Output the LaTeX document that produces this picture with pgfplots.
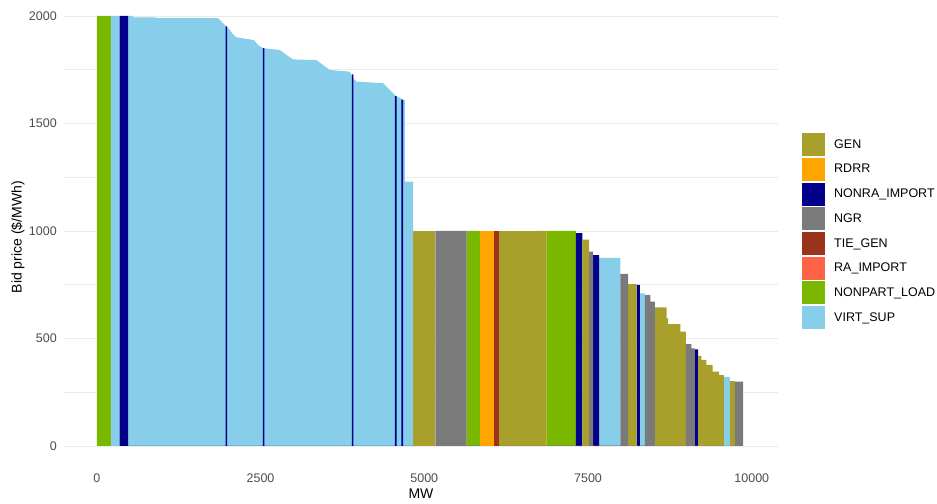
\documentclass[border=0pt]{standalone}
\usepackage{pgfplots}
\pgfplotsset{compat=1.18}
\usepackage{fontspec}
\setmainfont{Liberation Sans}
\definecolor{gen}{RGB}{168,160,42}
\definecolor{rdrr}{RGB}{255,165,0}
\definecolor{nonra}{RGB}{0,0,139}
\definecolor{ngr}{RGB}{122,122,122}
\definecolor{tiegen}{RGB}{153,51,26}
\definecolor{raimp}{RGB}{255,99,71}
\definecolor{npl}{RGB}{122,184,0}
\definecolor{virt}{RGB}{135,206,235}
\definecolor{gridc}{RGB}{235,235,235}
\definecolor{tickc}{RGB}{77,77,77}
\begin{document}
\begin{tikzpicture}
\path[use as bounding box] (0,0) rectangle (937bp,504bp);
\begin{axis}[
  at={(64bp,36.5bp)}, anchor=south west,
  scale only axis, width=714bp, height=473bp,
  xmin=-500, xmax=10400, ymin=-100, ymax=2100,
  axis line style={draw=none}, tick style={draw=none},
  xtick={0,2500,5000,7500,10000}, ytick={0,500,1000,1500,2000},
  minor ytick={250,750,1250,1750},
  ymajorgrids, yminorgrids,
  major grid style={color=gridc, line width=0.8bp},
  minor grid style={color=gridc, line width=0.5bp},
  tick label style={font=\fontsize{12.5bp}{14bp}\selectfont, text=tickc},
  xticklabel style={anchor=north, inner sep=0pt, yshift=-6bp},
  yticklabel style={anchor=east, inner sep=0pt, xshift=-7bp},
  scaled ticks=false,
  xlabel={MW}, ylabel={Bid price (\$/MWh)},
  xlabel style={at={(axis description cs:0.5,-0.056)}, anchor=center, font=\fontsize{14bp}{16bp}\selectfont},
  ylabel style={at={(axis description cs:-0.0644,0.487)}, anchor=center, font=\fontsize{14bp}{16bp}\selectfont},
  legend style={at={(axis description cs:1,1)}, anchor=north west, xshift=23.7bp, yshift=-137.65bp,
    draw=none, fill=none, inner sep=0pt, row sep=0pt, column sep=0pt,
    font=\fontsize{12.5bp}{14bp}\selectfont, cells={anchor=west}, nodes={inner sep=0pt, text=black}},
  legend image code/.code={\path[draw=none, fill=none] (0bp,-12.35bp) rectangle (32.3bp,12.35bp); \fill[#1, draw=none] (0bp,-11.4bp) rectangle (23.3bp,11.4bp);},
  /pgf/number format/.cd, 1000 sep={}, assume math mode=true
]
% NONPART_LOAD
\addplot[fill=npl, draw=none, mark=none, forget plot] coordinates {
(0,0) (0,2000) (214,2000) (214,0)
(5645,0) (5645,1000) (5850,1000) (5850,0)
(6865,0) (6865,1000) (7313,1000) (7313,0)};
% VIRT_SUP
\addplot[fill=virt, draw=none, mark=none, forget plot] coordinates {
(214,0) (214,2000) (351,2000) (351,0)
(478,0) (478,2000) (555,2000) (555,1994) (911,1994) (911,1990) (1852,1990) (1900,1975) (1930,1966) (1980,1950)
(2031,1935) (2080,1915) (2132,1901) (2400,1888) (2463,1865) (2540,1850) (2794,1842) (2896,1819) (2997,1798)
(3354,1795) (3455,1772) (3557,1749) (3863,1741) (3913,1710) (3964,1695) (4371,1687) (4473,1656) (4576,1625)
(4626,1620) (4677,1609) (4705,1609) (4705,1230) (4829,1230) (4829,0)
(7669,0) (7669,875) (7995,875) (7995,0)
(8290,0) (8290,710) (8366,710) (8366,0)
(9573,0) (9573,322) (9664,322) (9664,0)};
% NONRA_IMPORT
\addplot[fill=nonra, draw=none, mark=none, forget plot] coordinates {
(351,0) (351,2000) (478,2000) (478,0)
(1967,0) (1967,1952) (1991,1952) (1991,0)
(2535,0) (2535,1851) (2559,1851) (2559,0)
(3893,0) (3893,1728) (3917,1728) (3917,0)
(4553,0) (4553,1627) (4577,1627) (4577,0)
(4652,0) (4652,1611) (4676,1611) (4676,0)
(7313,0) (7313,990) (7415,990) (7415,0)
(7577,0) (7577,888) (7669,888) (7669,0)
(8240,0) (8240,749) (8290,749) (8290,0)
(9130,0) (9130,449) (9180,449) (9180,0)};
% GEN
\addplot[fill=gen, draw=none, mark=none, forget plot] coordinates {
(4829,0) (4829,1000) (4992,1000) (4992,0)};
\addplot[fill=gen, draw=none, mark=none, forget plot] coordinates {
(4992,0) (4992,1000) (5170,1000) (5170,0)};
\addplot[fill=gen, draw=none, mark=none, forget plot] coordinates {
(6140,0) (6140,1000) (6700,1000) (6700,0)};
\addplot[fill=gen, draw=none, mark=none, forget plot] coordinates {
(6700,0) (6700,1000) (6865,1000) (6865,0)
(7415,0) (7415,960) (7516,960) (7516,0)
(8111,0) (8111,753) (8240,753) (8240,0)
(8519,0) (8519,645) (8698,645) (8698,594) (8722,594) (8722,567) (8911,567) (8911,532) (8992,532) (8992,0)
(9180,0) (9180,419) (9232,419) (9232,400) (9308,400) (9308,377) (9400,377) (9400,346) (9501,346) (9501,330) (9573,330) (9573,0)
(9664,0) (9664,302) (9740,302) (9740,0)};
% NGR
\addplot[fill=ngr, draw=none, mark=none, forget plot] coordinates {
(5170,0) (5170,1000) (5645,1000) (5645,0)
(7516,0) (7516,904) (7577,904) (7577,0)
(7995,0) (7995,800) (8111,800) (8111,0)
(8366,0) (8366,702) (8453,702) (8453,671) (8519,671) (8519,0)
(8992,0) (8992,474) (9079,474) (9079,454) (9130,454) (9130,0)
(9740,0) (9740,299) (9868,299) (9868,0)};
% RDRR
\addplot[fill=rdrr, draw=none, mark=none, forget plot] coordinates {
(5850,0) (5850,1000) (6060,1000) (6060,0)};
% TIE_GEN
\addplot[fill=tiegen, draw=none, mark=none, forget plot] coordinates {
(6060,0) (6060,1000) (6140,1000) (6140,0)};
% legend
\addlegendimage{fill=gen}\addlegendentry{GEN}
\addlegendimage{fill=rdrr}\addlegendentry{RDRR}
\addlegendimage{fill=nonra}\addlegendentry{NONRA\_IMPORT}
\addlegendimage{fill=ngr}\addlegendentry{NGR}
\addlegendimage{fill=tiegen}\addlegendentry{TIE\_GEN}
\addlegendimage{fill=raimp}\addlegendentry{RA\_IMPORT}
\addlegendimage{fill=npl}\addlegendentry{NONPART\_LOAD}
\addlegendimage{fill=virt}\addlegendentry{VIRT\_SUP}
\end{axis}
\end{tikzpicture}
\end{document}
